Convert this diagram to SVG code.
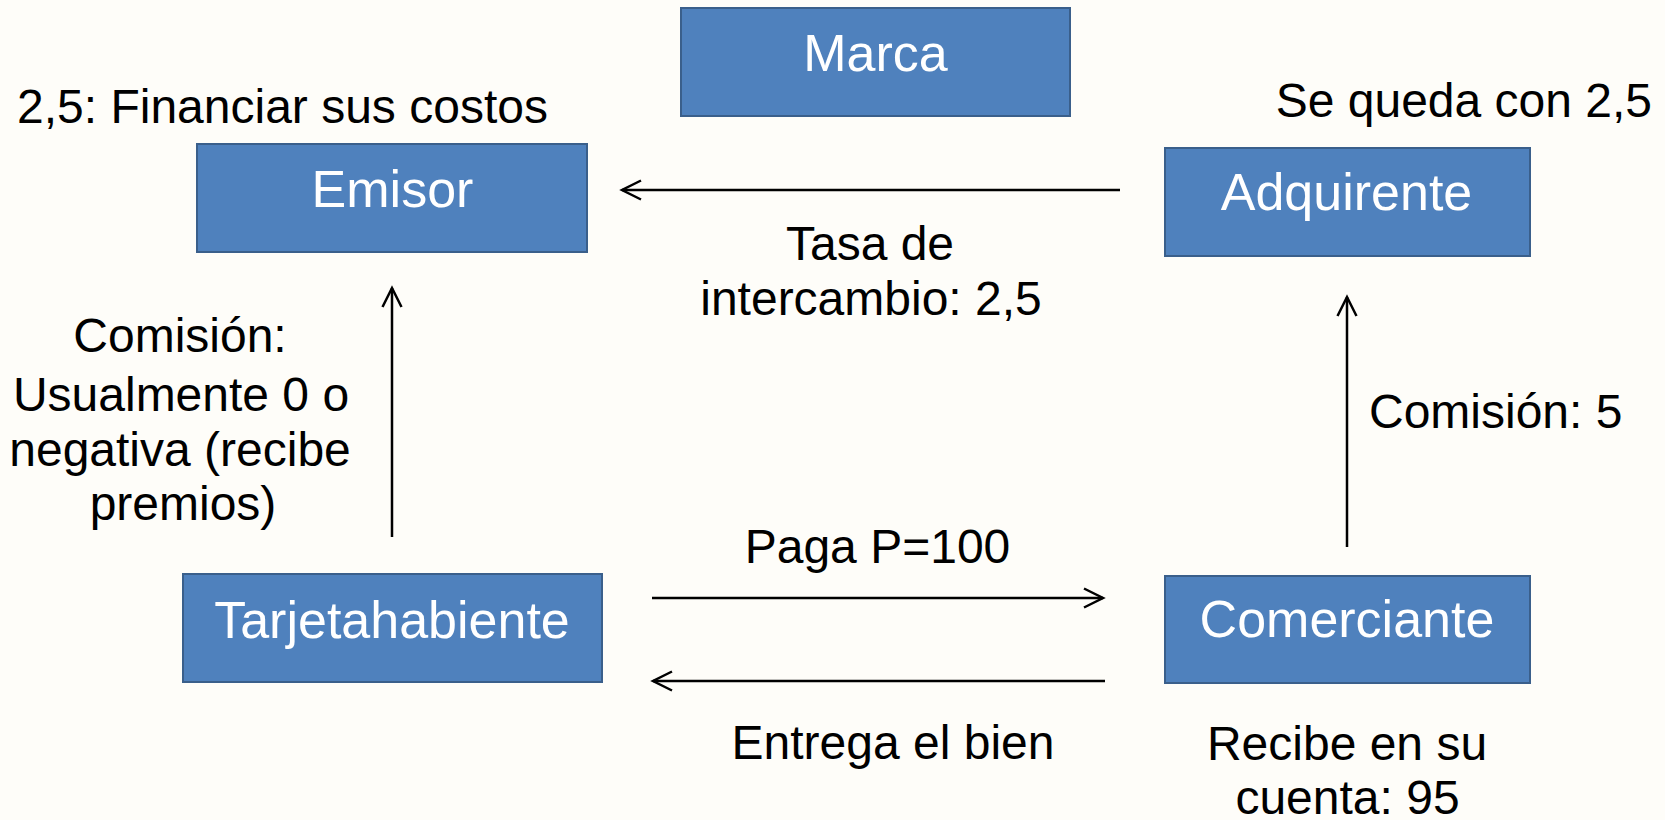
<svg xmlns="http://www.w3.org/2000/svg" width="1665" height="820" viewBox="0 0 1665 820">
  <defs>
    <style>
      .box { fill: #4F81BD; stroke: #3A5F8B; stroke-width: 2; }
      .nt { font-family: "Liberation Sans", Arial, sans-serif; font-size: 52px; fill: #FFFFFF; text-anchor: middle; }
      .lb { font-family: "Liberation Sans", Arial, sans-serif; font-size: 48px; fill: #000000; }
      .mid { text-anchor: middle; }
      .end { text-anchor: end; }
      .conn { stroke: #000000; stroke-width: 2.5; fill: none; marker-end: url(#arr); }
    </style>
    <marker id="arr" viewBox="-22 -12 25 24" markerWidth="25" markerHeight="24" refX="0" refY="0" orient="auto" markerUnits="userSpaceOnUse">
      <path d="M-19,-9.5 L0,0 L-19,9.5" fill="none" stroke="#000000" stroke-width="2.5" stroke-linejoin="miter"/>
    </marker>
  </defs>

  <rect x="0" y="0" width="1665" height="820" fill="#FEFDF9"/>

  <g id="connectors">
    <line class="conn" x1="1120" y1="190" x2="622" y2="190"/>
    <line class="conn" x1="392" y1="537" x2="392" y2="288"/>
    <line class="conn" x1="1347" y1="547" x2="1347" y2="297"/>
    <line class="conn" x1="652" y1="598" x2="1103" y2="598"/>
    <line class="conn" x1="1105" y1="681" x2="653" y2="681"/>
  </g>

  <g id="marca">
    <rect class="box" x="681" y="8" width="389" height="108"/>
    <text class="nt" x="875.5" y="71">Marca</text>
  </g>

  <g id="emisor">
    <rect class="box" x="197" y="144" width="390" height="108"/>
    <text class="nt" x="392.5" y="207">Emisor</text>
  </g>

  <g id="adquirente">
    <rect class="box" x="1165" y="148" width="365" height="108"/>
    <text class="nt" x="1346.5" y="210">Adquirente</text>
  </g>

  <g id="tarjetahabiente">
    <rect class="box" x="183" y="574" width="419" height="108"/>
    <text class="nt" x="392" y="638">Tarjetahabiente</text>
  </g>

  <g id="comerciante">
    <rect class="box" x="1165" y="576" width="365" height="107"/>
    <text class="nt" x="1347" y="637">Comerciante</text>
  </g>

  <g id="labels">
    <text class="lb" x="17" y="123">2,5: Financiar sus costos</text>
    <text class="lb end" x="1652" y="117" font-size="47">Se queda con 2,5</text>
    <text class="lb mid" x="870" y="260">Tasa de</text>
    <text class="lb mid" x="871" y="315">intercambio: 2,5</text>
    <text class="lb mid" x="180" y="352">Comisión:</text>
    <text class="lb mid" x="181" y="411">Usualmente 0 o</text>
    <text class="lb mid" x="180" y="466">negativa (recibe</text>
    <text class="lb mid" x="183" y="520">premios)</text>
    <text class="lb" x="1369" y="428">Comisión: 5</text>
    <text class="lb mid" x="877.5" y="563">Paga P=100</text>
    <text class="lb mid" x="893" y="759">Entrega el bien</text>
    <text class="lb mid" x="1347" y="760">Recibe en su</text>
    <text class="lb mid" x="1347.5" y="814">cuenta: 95</text>
  </g>
</svg>
